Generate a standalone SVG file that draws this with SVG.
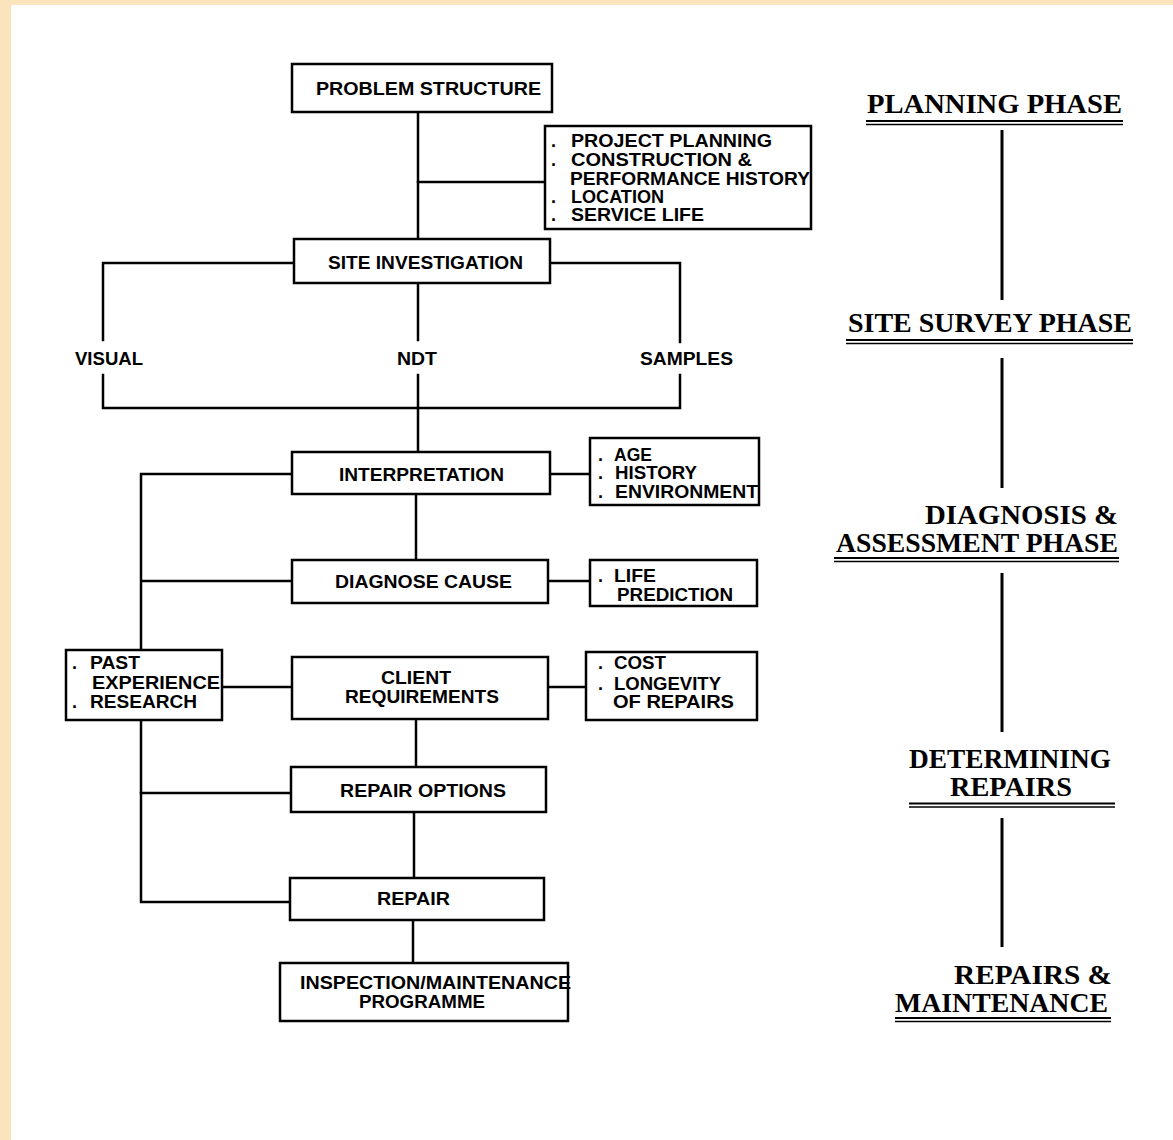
<svg xmlns="http://www.w3.org/2000/svg" width="1173" height="1140" viewBox="0 0 1173 1140">
<style>
.box{fill:#fff;stroke:#000;stroke-width:2.5}
.ln{fill:none;stroke:#000;stroke-width:2.5;stroke-linecap:square}
.ph{fill:none;stroke:#000;stroke-width:3}
.ul1{stroke:#000;stroke-width:2}
.ul2{stroke:#000;stroke-width:1.4}
.t{font-family:"Liberation Sans",Arial,sans-serif;font-weight:bold;font-size:19px;fill:#000}
.s{font-family:"Liberation Sans",Arial,sans-serif;font-weight:bold;font-size:18px;fill:#000}
.b{font-family:"Liberation Sans",Arial,sans-serif;font-weight:bold;font-size:18px;fill:#000}
.p{font-family:"Liberation Serif","Times New Roman",serif;font-weight:bold;font-size:28px;fill:#000}
</style>
<rect x="0" y="0" width="1173" height="1140" fill="#fff"/>
<rect x="0" y="0" width="1173" height="5" fill="#FBE4BC"/>
<rect x="0" y="0" width="11" height="1140" fill="#FBE4BC"/>

<g id="connectors">
<path class="ln" d="M418,113 V239"/>
<path class="ln" d="M418,182 H545"/>
<path class="ln" d="M294,263 H103 V340"/>
<path class="ln" d="M550,263 H680 V342"/>
<path class="ln" d="M418,283 V340"/>
<path class="ln" d="M103,375 V408 H680 V375"/>
<path class="ln" d="M418,375 V452"/>
<path class="ln" d="M416,494 V560"/>
<path class="ln" d="M550,474 H590"/>
<path class="ln" d="M292,474 H141 V650"/>
<path class="ln" d="M141,720 V902 H290"/>
<path class="ln" d="M143,581 H292"/>
<path class="ln" d="M548,581 H590"/>
<path class="ln" d="M222,687 H292"/>
<path class="ln" d="M548,687 H586"/>
<path class="ln" d="M416,719 V767"/>
<path class="ln" d="M141,793 H291"/>
<path class="ln" d="M414,812 V878"/>
<path class="ln" d="M413,920 V963"/>
<path class="ph" d="M1002,130 V300"/>
<path class="ph" d="M1002,358 V488"/>
<path class="ph" d="M1002,573 V732"/>
<path class="ph" d="M1002,818 V947"/>
</g>

<g id="problem-structure">
<rect class="box" x="292" y="64" width="260" height="48"/>
<text class="t" x="316" y="95" textLength="225" lengthAdjust="spacingAndGlyphs">PROBLEM STRUCTURE</text>
</g>

<g id="planning-factors">
<rect class="box" x="545" y="126" width="266" height="103"/>
<text class="b" x="551" y="147">.</text>
<text class="s" x="571" y="147" textLength="201" lengthAdjust="spacingAndGlyphs">PROJECT PLANNING</text>
<text class="b" x="551" y="166">.</text>
<text class="s" x="571" y="166" textLength="181" lengthAdjust="spacingAndGlyphs">CONSTRUCTION &amp;</text>
<text class="s" x="570" y="185" textLength="240" lengthAdjust="spacingAndGlyphs">PERFORMANCE HISTORY</text>
<text class="b" x="551" y="203">.</text>
<text class="s" x="571" y="203" textLength="93" lengthAdjust="spacingAndGlyphs">LOCATION</text>
<text class="b" x="551" y="221">.</text>
<text class="s" x="571" y="221" textLength="133" lengthAdjust="spacingAndGlyphs">SERVICE LIFE</text>
</g>

<g id="site-investigation">
<rect class="box" x="294" y="239" width="256" height="44"/>
<text class="t" x="328" y="269" textLength="195" lengthAdjust="spacingAndGlyphs">SITE INVESTIGATION</text>
</g>

<g id="visual">
<text class="t" x="75" y="365" textLength="68" lengthAdjust="spacingAndGlyphs">VISUAL</text>
</g>
<g id="ndt">
<text class="t" x="397" y="365" textLength="40" lengthAdjust="spacingAndGlyphs">NDT</text>
</g>
<g id="samples">
<text class="t" x="640" y="365" textLength="93" lengthAdjust="spacingAndGlyphs">SAMPLES</text>
</g>

<g id="interpretation">
<rect class="box" x="292" y="452" width="258" height="42"/>
<text class="t" x="339" y="481" textLength="165" lengthAdjust="spacingAndGlyphs">INTERPRETATION</text>
</g>

<g id="interpretation-factors">
<rect class="box" x="590" y="438" width="169" height="67"/>
<text class="b" x="598" y="461">.</text>
<text class="s" x="614" y="461" textLength="38" lengthAdjust="spacingAndGlyphs">AGE</text>
<text class="b" x="598" y="479">.</text>
<text class="s" x="615" y="479" textLength="82" lengthAdjust="spacingAndGlyphs">HISTORY</text>
<text class="b" x="598" y="498">.</text>
<text class="s" x="615" y="498" textLength="143" lengthAdjust="spacingAndGlyphs">ENVIRONMENT</text>
</g>

<g id="diagnose-cause">
<rect class="box" x="292" y="560" width="256" height="43"/>
<text class="t" x="335" y="588" textLength="177" lengthAdjust="spacingAndGlyphs">DIAGNOSE CAUSE</text>
</g>

<g id="life-prediction">
<rect class="box" x="590" y="560" width="167" height="46"/>
<text class="b" x="598" y="582">.</text>
<text class="s" x="614" y="582" textLength="42" lengthAdjust="spacingAndGlyphs">LIFE</text>
<text class="s" x="617" y="601" textLength="116" lengthAdjust="spacingAndGlyphs">PREDICTION</text>
</g>

<g id="past-experience">
<rect class="box" x="66" y="650" width="156" height="70"/>
<text class="b" x="72" y="669">.</text>
<text class="s" x="90" y="669" textLength="50" lengthAdjust="spacingAndGlyphs">PAST</text>
<text class="s" x="92" y="689" textLength="128" lengthAdjust="spacingAndGlyphs">EXPERIENCE</text>
<text class="b" x="72" y="708">.</text>
<text class="s" x="90" y="708" textLength="107" lengthAdjust="spacingAndGlyphs">RESEARCH</text>
</g>

<g id="client-requirements">
<rect class="box" x="292" y="657" width="256" height="62"/>
<text class="t" x="381" y="684" textLength="70" lengthAdjust="spacingAndGlyphs">CLIENT</text>
<text class="t" x="345" y="703" textLength="154" lengthAdjust="spacingAndGlyphs">REQUIREMENTS</text>
</g>

<g id="client-factors">
<rect class="box" x="586" y="652" width="171" height="68"/>
<text class="b" x="598" y="669">.</text>
<text class="s" x="614" y="669" textLength="52" lengthAdjust="spacingAndGlyphs">COST</text>
<text class="b" x="598" y="690">.</text>
<text class="s" x="614" y="690" textLength="107" lengthAdjust="spacingAndGlyphs">LONGEVITY</text>
<text class="s" x="613" y="708" textLength="121" lengthAdjust="spacingAndGlyphs">OF REPAIRS</text>
</g>

<g id="repair-options">
<rect class="box" x="291" y="767" width="255" height="45"/>
<text class="t" x="340" y="797" textLength="166" lengthAdjust="spacingAndGlyphs">REPAIR OPTIONS</text>
</g>

<g id="repair">
<rect class="box" x="290" y="878" width="254" height="42"/>
<text class="t" x="377" y="905" textLength="73" lengthAdjust="spacingAndGlyphs">REPAIR</text>
</g>

<g id="inspection">
<rect class="box" x="280" y="963" width="288" height="58"/>
<text class="s" x="300" y="989" textLength="271" lengthAdjust="spacingAndGlyphs">INSPECTION/MAINTENANCE</text>
<text class="s" x="359" y="1008" textLength="126" lengthAdjust="spacingAndGlyphs">PROGRAMME</text>
</g>

<g id="planning-phase">
<text class="p" x="867" y="113" textLength="255" lengthAdjust="spacingAndGlyphs">PLANNING PHASE</text>
<line class="ul1" x1="866" y1="121" x2="1123" y2="121"/>
<line class="ul2" x1="866" y1="124.5" x2="1123" y2="124.5"/>
</g>

<g id="site-survey-phase">
<text class="p" x="848" y="332" textLength="284" lengthAdjust="spacingAndGlyphs">SITE SURVEY PHASE</text>
<line class="ul1" x1="846" y1="340" x2="1133" y2="340"/>
<line class="ul2" x1="846" y1="343.5" x2="1133" y2="343.5"/>
</g>

<g id="diagnosis-phase">
<text class="p" x="925" y="524" textLength="193" lengthAdjust="spacingAndGlyphs">DIAGNOSIS  &amp;</text>
<text class="p" x="836" y="552" textLength="282" lengthAdjust="spacingAndGlyphs">ASSESSMENT PHASE</text>
<line class="ul1" x1="834" y1="558" x2="1119" y2="558"/>
<line class="ul2" x1="834" y1="561.5" x2="1119" y2="561.5"/>
</g>

<g id="determining-repairs">
<text class="p" x="909" y="768" textLength="202" lengthAdjust="spacingAndGlyphs">DETERMINING</text>
<text class="p" x="950" y="796" textLength="122" lengthAdjust="spacingAndGlyphs">REPAIRS</text>
<line class="ul1" x1="909" y1="803.5" x2="1115" y2="803.5"/>
<line class="ul2" x1="909" y1="807" x2="1115" y2="807"/>
</g>

<g id="repairs-maintenance">
<text class="p" x="954" y="984" textLength="158" lengthAdjust="spacingAndGlyphs">REPAIRS  &amp;</text>
<text class="p" x="895" y="1012" textLength="213" lengthAdjust="spacingAndGlyphs">MAINTENANCE</text>
<line class="ul1" x1="895" y1="1018" x2="1111" y2="1018"/>
<line class="ul2" x1="895" y1="1021.5" x2="1111" y2="1021.5"/>
</g>
</svg>
